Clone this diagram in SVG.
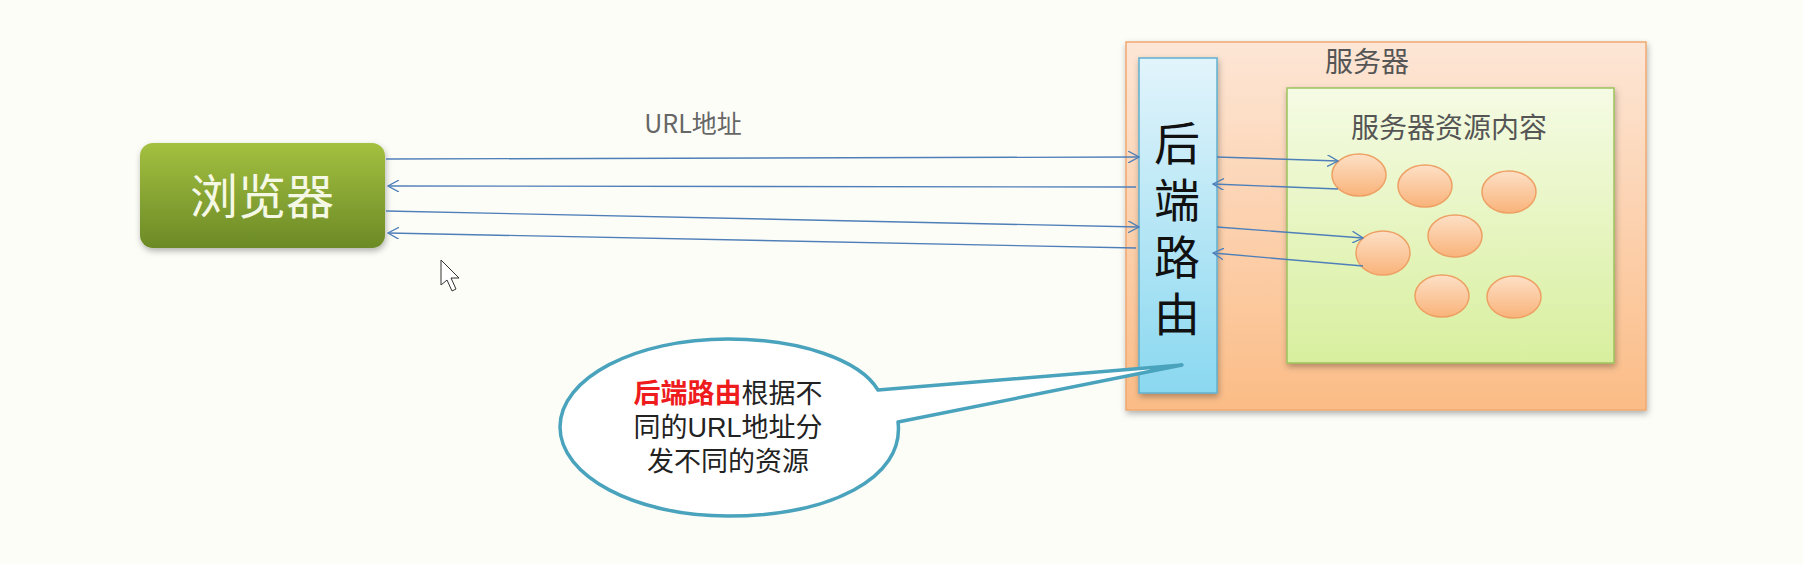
<svg xmlns="http://www.w3.org/2000/svg" width="1803" height="564" viewBox="0 0 1803 564">
<defs>
<linearGradient id="gGreen" x1="0" y1="0" x2="0" y2="1"><stop offset="0" stop-color="#a3c040"/><stop offset="1" stop-color="#6c8a26"/></linearGradient>
<linearGradient id="gPeach" x1="0" y1="0" x2="0" y2="1"><stop offset="0" stop-color="#fde6d6"/><stop offset="1" stop-color="#fbbc86"/></linearGradient>
<linearGradient id="gBlue" x1="0" y1="0" x2="0" y2="1"><stop offset="0" stop-color="#e2f4fb"/><stop offset="1" stop-color="#8ad8f0"/></linearGradient>
<linearGradient id="gLime" x1="0" y1="0" x2="0" y2="1"><stop offset="0" stop-color="#f5fbe4"/><stop offset="1" stop-color="#d8ef9e"/></linearGradient>
<linearGradient id="gBall" x1="0" y1="0" x2="0" y2="1"><stop offset="0" stop-color="#fde0c6"/><stop offset="1" stop-color="#f9b37a"/></linearGradient>
<filter id="sh" x="-10%" y="-10%" width="130%" height="140%"><feDropShadow dx="1" dy="3" stdDeviation="3" flood-color="#000" flood-opacity="0.3"/></filter>
<marker id="arr" viewBox="0 0 12 12" refX="11" refY="6" markerWidth="12" markerHeight="12" markerUnits="userSpaceOnUse" orient="auto"><path d="M0,0 L11,6 L0,12" fill="none" stroke="#4f7fb8" stroke-width="1.3"/></marker>
<style>
.t{font-family:"Noto Sans CJK SC","Noto Sans",sans-serif}
.c{font-family:"Liberation Sans","Noto Sans CJK SC",sans-serif}
.ln{stroke:#4f7fb8;stroke-width:1.4;fill:none;marker-end:url(#arr)}
.ball{fill:url(#gBall);stroke:#eea064;stroke-width:1.5}
</style>
</defs>
<rect width="1803" height="564" fill="#fdfdf8"/>

<g id="browser">
<rect x="140" y="143" width="245" height="105" rx="13" fill="url(#gGreen)" filter="url(#sh)"/>
<text x="262" y="214" class="t" font-size="48" fill="#f6f8e6" text-anchor="middle">浏览器</text>
</g>

<g id="server">
<rect x="1126" y="42" width="520" height="368" fill="url(#gPeach)" stroke="#f0a870" stroke-width="1.5" filter="url(#sh)"/>
<text x="1367" y="72" class="t" font-size="28" fill="#555" text-anchor="middle">服务器</text>
</g>

<g id="resources">
<rect x="1287" y="88" width="327" height="275" fill="url(#gLime)" stroke="#9cc25c" stroke-width="1.5" filter="url(#sh)"/>
<text x="1449" y="138" class="t" font-size="28" fill="#555" text-anchor="middle">服务器资源内容</text>
</g>

<g id="router">
<rect x="1139" y="58" width="78" height="335" fill="url(#gBlue)" stroke="#5fb0d0" stroke-width="1.5" filter="url(#sh)"/>
<text x="1177" y="120" class="t" font-size="46" fill="#111" writing-mode="vertical-rl" letter-spacing="11">后端路由</text>
</g>

<g id="balls">
<ellipse class="ball" cx="1359" cy="175" rx="27" ry="21"/>
<ellipse class="ball" cx="1425" cy="186" rx="27" ry="21"/>
<ellipse class="ball" cx="1509" cy="192" rx="27" ry="21"/>
<ellipse class="ball" cx="1455" cy="236" rx="27" ry="21"/>
<ellipse class="ball" cx="1383" cy="253" rx="27" ry="22"/>
<ellipse class="ball" cx="1442" cy="296" rx="27" ry="21"/>
<ellipse class="ball" cx="1514" cy="297" rx="27" ry="21"/>
</g>

<g id="connectors">
<line class="ln" x1="386" y1="159" x2="1139" y2="157"/>
<line class="ln" x1="1136" y1="187" x2="388" y2="186"/>
<line class="ln" x1="386" y1="211" x2="1139" y2="227"/>
<line class="ln" x1="1136" y1="248" x2="388" y2="233"/>
<line class="ln" x1="1217" y1="157" x2="1338" y2="161"/>
<line class="ln" x1="1338" y1="189" x2="1213" y2="184"/>
<line class="ln" x1="1217" y1="227" x2="1363" y2="238"/>
<line class="ln" x1="1363" y1="266" x2="1213" y2="253"/>
<text x="693" y="133" class="t" font-size="25" fill="#666" text-anchor="middle">URL地址</text>
</g>

<g id="callout">
<path d="M878,390 L1182,365 L898,422 C905,478 830,516 728,516 C635,516 560,476 560,427 C560,378 635,339 728,339 C800,339 860,360 878,390 Z" fill="#ffffff" stroke="#4aa3bd" stroke-width="3.5" stroke-linejoin="round"/>
<g class="c" font-size="27" fill="#222" text-anchor="middle">
<text x="728" y="403"><tspan fill="#ee1c1c" font-weight="bold">后端路由</tspan>根据不</text>
<text x="728" y="437">同的URL地址分</text>
<text x="728" y="471">发不同的资源</text>
</g>
</g>

<path d="M441,260 L441,285 L447,280 L452,291 L456,289 L451,278 L459,278 Z" fill="#fff" stroke="#333" stroke-width="1"/>
</svg>
